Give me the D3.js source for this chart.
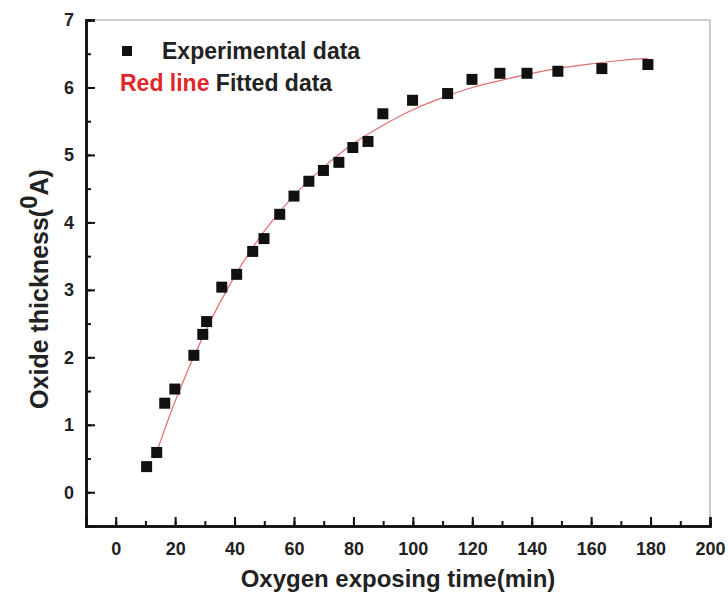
<!DOCTYPE html>
<html lang="en">
<head>
<meta charset="UTF-8">
<title>Oxide thickness</title>
<script src="https://d3js.org/d3.v7.min.js"></script>
<style>
  body { margin: 0; background: #fff; }
  text { font-family: "Liberation Sans", Arial, sans-serif; font-weight: bold; }
</style>
</head>
<body>
<svg id="chart" width="728" height="604"></svg>
<script>
// experimental points
var expTime = [10.4, 13.8, 16.5, 19.9, 26.3, 29.3, 30.6, 35.7, 40.7, 46.1, 49.9, 55.2, 60.0, 65.0,
               69.9, 75.1, 79.8, 84.9, 89.9, 99.9, 111.7, 119.9, 129.3, 138.4, 148.8, 163.6, 179.1];
var expThick = [0.38, 0.59, 1.32, 1.53, 2.03, 2.34, 2.53, 3.04, 3.23, 3.57, 3.76, 4.12, 4.39, 4.61,
                4.77, 4.89, 5.11, 5.20, 5.61, 5.81, 5.91, 6.12, 6.21, 6.21, 6.24, 6.28, 6.34];

// fitted (red) line, sampled along the curve
var fitTime = [13, 20, 30, 40, 50, 60, 70, 80, 90, 100, 110, 120, 130, 140, 150, 160, 170, 179];
var fitThick = [0.50, 1.35, 2.37, 3.20, 3.87, 4.40, 4.82, 5.17, 5.44, 5.67, 5.85, 6.00, 6.11, 6.21, 6.29, 6.35, 6.40, 6.43];

var xTicks = [0, 20, 40, 60, 80, 100, 120, 140, 160, 180, 200];
var yTicks = [0, 1, 2, 3, 4, 5, 6, 7];

var svg = d3.select("#chart");
var mLeft = 86, mRight = 710, mTop = 20, mBottom = 526;

var x = d3.scaleLinear().domain([-10, 200]).range([mLeft, mRight]);
var y = d3.scaleLinear().domain([-0.5, 7]).range([mBottom, mTop]);

// light frame top / right
svg.append("line").attr("x1", mLeft).attr("x2", mRight).attr("y1", mTop).attr("y2", mTop)
   .attr("stroke", "#bbb").attr("stroke-width", 1.5);
svg.append("line").attr("x1", mRight).attr("x2", mRight).attr("y1", mTop).attr("y2", mBottom)
   .attr("stroke", "#bbb").attr("stroke-width", 1.5);

// x axis: minor + major ticks pointing inward
var xAxis = svg.append("g").attr("transform", "translate(0," + mBottom + ")");
xAxis.call(d3.axisBottom(x).tickValues(d3.range(-10, 201, 10)).tickSize(-5).tickFormat(""));
xAxis.append("g").call(d3.axisBottom(x).tickValues(xTicks).tickSize(-9).tickPadding(16).tickFormat(d3.format("d")));
xAxis.selectAll(".domain").attr("stroke", "#111").attr("stroke-width", 2.5);
xAxis.selectAll("line").attr("stroke", "#111").attr("stroke-width", 2);
xAxis.selectAll("text").attr("font-size", 18).attr("fill", "#222");

var yAxis = svg.append("g").attr("transform", "translate(" + mLeft + ",0)");
yAxis.call(d3.axisLeft(y).tickValues(d3.range(-0.5, 7.01, 0.5)).tickSize(-5).tickFormat(""));
yAxis.append("g").call(d3.axisLeft(y).tickValues(yTicks).tickSize(-9).tickPadding(12).tickFormat(d3.format("d")));
yAxis.selectAll(".domain").attr("stroke", "#111").attr("stroke-width", 2.5);
yAxis.selectAll("line").attr("stroke", "#111").attr("stroke-width", 2);
yAxis.selectAll("text").attr("font-size", 18).attr("fill", "#222");

// fitted curve
var fitData = fitTime.map(function(t, i) { return [t, fitThick[i]]; });
svg.append("path").datum(fitData)
   .attr("fill", "none").attr("stroke", "#e07070").attr("stroke-width", 1.2)
   .attr("d", d3.line().x(function(d) { return x(d[0]); }).y(function(d) { return y(d[1]); }).curve(d3.curveMonotoneX));

// experimental squares
svg.selectAll("rect.pt").data(expTime).join("rect").attr("class", "pt")
   .attr("x", function(d) { return x(d) - 5.5; })
   .attr("y", function(d, i) { return y(expThick[i]) - 5.5; })
   .attr("width", 11).attr("height", 11).attr("fill", "#111");

// legend
svg.append("rect").attr("x", 122).attr("y", 46).attr("width", 10).attr("height", 10).attr("fill", "#111");
svg.append("text").attr("x", 162).attr("y", 59).attr("font-size", 23).attr("fill", "#222").text("Experimental data");
var lg = svg.append("text").attr("x", 120).attr("y", 91).attr("font-size", 23);
lg.append("tspan").attr("fill", "#e0282a").text("Red line ");
lg.append("tspan").attr("fill", "#222").text("Fitted data");

// axis titles
svg.append("text").attr("x", 398).attr("y", 587).attr("text-anchor", "middle")
   .attr("font-size", 24).attr("fill", "#222").text("Oxygen exposing time(min)");
var yt = svg.append("text").attr("transform", "translate(48,289) rotate(-90)").attr("text-anchor", "middle")
   .attr("font-size", 25).attr("fill", "#222");
yt.append("tspan").text("Oxide thickness(");
yt.append("tspan").attr("dy", -11).attr("font-size", 24).text("0");
yt.append("tspan").attr("dy", 11).text("A)");
</script>
</body>
</html>
